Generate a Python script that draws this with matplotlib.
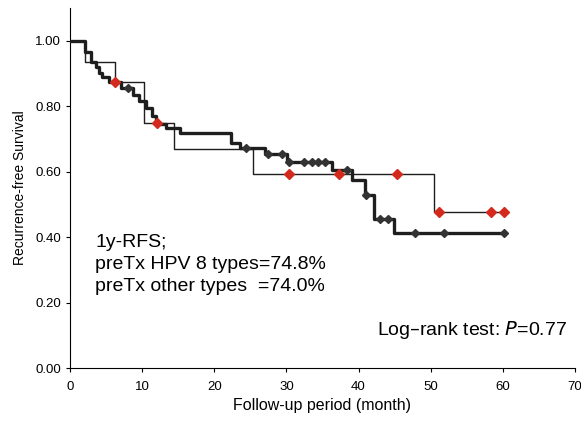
import matplotlib
import numpy as np

matplotlib.use("Agg")
import matplotlib.pyplot as plt

plt.rcParams["font.family"] = ["Liberation Sans", "DejaVu Sans"]

# pre-treatment HPV 8 types (thick line, black marks)
hpv8_t = [0, 2.1, 2.9, 3.6, 4.0, 4.5, 5.4, 7.1, 8.8, 9.6, 10.5, 11.3, 11.9,
          13.3, 15.3, 22.3, 23.5, 27.1, 30.1, 36.3, 39.1, 40.9, 42.1, 44.9]
hpv8_s = [1.0, 0.966, 0.936, 0.92, 0.903, 0.89, 0.874, 0.856, 0.835, 0.815,
          0.795, 0.77, 0.745, 0.734, 0.717, 0.689, 0.671, 0.653, 0.629,
          0.605, 0.576, 0.53, 0.456, 0.413]
hpv8_end = 60.2
hpv8_cens = [8.1, 24.4, 27.5, 29.4, 30.4, 32.4, 33.5, 34.4, 35.3, 38.4,
             41.1, 43.0, 44.1, 47.9, 51.8, 60.2]

# pre-treatment other types (thin line, red marks)
other_t = [0, 2.1, 6.2, 10.3, 14.4, 25.4, 50.4]
other_s = [1.0, 0.936, 0.874, 0.748, 0.668, 0.594, 0.476]
other_end = 60.2
other_cens = [6.2, 12.1, 30.3, 37.3, 45.3, 51.2, 58.3, 60.2]


def step_at(times, surv, when):
    idx = np.searchsorted(times, when, side="right") - 1
    return np.asarray(surv)[idx]


fig = plt.figure(figsize=(5.81, 4.23), dpi=100)
ax = fig.add_axes([0.1205, 0.13, 0.869, 0.851])

t = hpv8_t + [hpv8_end]
s = hpv8_s + [hpv8_s[-1]]
ax.step(t, s, where="post", color="#1e1e1e", lw=2.4, zorder=3)
ax.plot(hpv8_cens, step_at(hpv8_t, hpv8_s, hpv8_cens), ls="none", marker="D",
        ms=4.5, color="#333333", zorder=4)

t = other_t + [other_end]
s = other_s + [other_s[-1]]
ax.step(t, s, where="post", color="#1e1e1e", lw=1.0, zorder=2)
ax.plot(other_cens, step_at(other_t, other_s, other_cens), ls="none",
        marker="D", ms=5, color="#d42a1e", zorder=5)

ax.set_xlim(0, 70)
ax.set_ylim(0, 1.10)
ax.set_xticks(range(0, 71, 10))
ax.set_yticks([0, 0.2, 0.4, 0.6, 0.8, 1.0])
ax.set_yticklabels([f"{v:.2f}" for v in [0, 0.2, 0.4, 0.6, 0.8, 1.0]])
ax.spines["top"].set_visible(False)
ax.spines["right"].set_visible(False)
ax.tick_params(axis="both", direction="out", length=3, width=0.8, labelsize=9.5)
ax.tick_params(axis="x", pad=6)

ax.set_xlabel("Follow-up period (month)", fontsize=11.5, labelpad=4)
ax.set_ylabel("Recurrence-free Survival", fontsize=10, labelpad=6)

ax.text(3.5, 0.41, "1y-RFS;\npreTx HPV 8 types=74.8%\npreTx other types  =74.0%",
        fontsize=14, va="top", ha="left", linespacing=1.4)
ax.text(68.9, 0.116, "Log\u2013rank test: $\\it{P}$=0.77", fontsize=14,
        va="center", ha="right")

fig.savefig("out.png", dpi=100)
plt.close(fig)
